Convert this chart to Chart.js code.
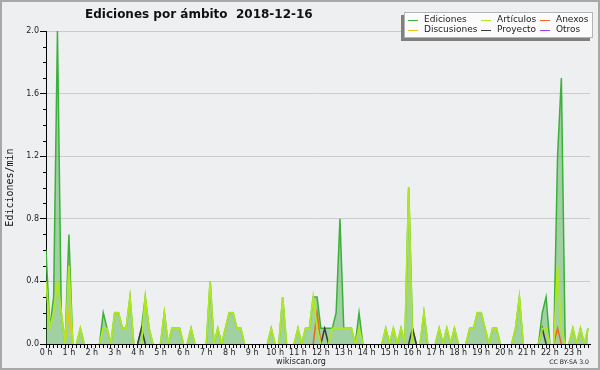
<!DOCTYPE html>
<html><head><meta charset="utf-8">
<script src="https://cdn.jsdelivr.net/npm/chart.js@4/dist/chart.umd.min.js"></script>
<style>html,body{margin:0;padding:0;background:#eeeff1}canvas{display:block}</style>
</head><body>
<div style="width:600px;height:370px;position:relative"><canvas id="c" width="600" height="370"></canvas></div>
<script>
// ---- data (10-minute bins, edits per minute) ----
const titleText = 'Ediciones por ámbito  2018-12-16';
const yTitle = 'Ediciones/min';
const hourLabels = ['0 h','1 h','2 h','3 h','4 h','5 h','6 h','7 h','8 h','9 h','10 h','11 h','12 h','13 h','14 h','15 h','16 h','17 h','18 h','19 h','20 h','21 h','22 h','23 h'];
const seriesNames = ['Ediciones','Artículos','Anexos','Discusiones','Proyecto','Otros'];
const ediciones = [
 0.6,0.1,0.3,2.0,0.2,0,0.7,0,0,0.1,0,0,
 0,0,0,0.2,0.1,0,0.2,0.2,0.1,0.1,0.3,0,
 0,0.1,0.3,0.1,0,0,0,0.2,0,0.1,0.1,0.1,
 0,0,0.1,0,0,0,0,0.4,0,0.1,0,0.1,
 0.2,0.2,0.1,0.1,0,0,0,0,0,0,0,0.1,
 0,0,0.3,0,0,0,0.1,0,0.1,0.1,0.3,0.3,
 0.1,0.1,0.1,0.1,0.2,0.8,0.1,0.1,0.1,0,0.2,0,
 0,0,0,0,0,0.1,0,0.1,0,0.1,0,1.0,
 0.1,0,0,0.2,0,0,0,0.1,0,0.1,0,0.1,
 0,0,0,0.1,0.1,0.2,0.2,0.1,0,0.1,0.1,0,
 0,0,0,0.1,0.3,0,0,0,0,0,0.2,0.3,
 0,0,1.2,1.7,0,0,0.1,0,0.1,0,0.1];
const articulos = [
 0.4,0.1,0.2,0.4,0.2,0,0.5,0,0,0.1,0,0,
 0,0,0,0.1,0.1,0,0.2,0.2,0.1,0.1,0.3,0,
 0,0,0.3,0.1,0,0,0,0.2,0,0.1,0.1,0.1,
 0,0,0.1,0,0,0,0,0.4,0,0.1,0,0.1,
 0.2,0.2,0.1,0.1,0,0,0,0,0,0,0,0.1,
 0,0,0.3,0,0,0,0.1,0,0.1,0.1,0.3,0.1,
 0,0,0,0.1,0.1,0.1,0.1,0.1,0.1,0,0.1,0,
 0,0,0,0,0,0.1,0,0.1,0,0.1,0,1.0,
 0,0,0,0.2,0,0,0,0.1,0,0.1,0,0.1,
 0,0,0,0.1,0.1,0.2,0.2,0.1,0,0.1,0.1,0,
 0,0,0,0.1,0.3,0,0,0,0,0,0.1,0.1,
 0,0,0.5,0.1,0,0,0.1,0,0.1,0,0.1];
const anexos = [
 0,0,0,0,0,0,0,0,0,0,0,0,
 0,0,0,0,0,0,0,0,0,0,0,0,
 0,0,0,0,0,0,0,0,0,0,0,0,
 0,0,0,0,0,0,0,0,0,0,0,0,
 0,0,0,0,0,0,0,0,0,0,0,0,
 0,0,0,0,0,0,0,0,0,0,0,0.2,
 0,0,0,0,0,0,0,0,0,0,0,0,
 0,0,0,0,0,0,0,0,0,0,0,0,
 0,0,0,0,0,0,0,0,0,0,0,0,
 0,0,0,0,0,0,0,0,0,0,0,0,
 0,0,0,0,0,0,0,0,0,0,0,0,
 0,0,0.1,0,0,0,0,0,0,0,0];
const discusiones = [
 0,0,0,0,0,0,0.2,0,0,0,0,0,
 0,0,0,0,0,0,0,0,0,0,0,0,
 0,0,0,0,0,0,0,0,0,0,0,0,
 0,0,0,0,0,0,0,0,0,0,0,0,
 0,0,0,0,0,0,0,0,0,0,0,0,
 0,0,0,0,0,0,0,0,0,0,0,0,
 0,0,0,0,0,0,0,0,0,0,0,0,
 0,0,0,0,0,0,0,0,0,0,0,0,
 0,0,0,0,0,0,0,0,0,0,0,0,
 0,0,0,0,0,0,0,0,0,0,0,0,
 0,0,0,0,0,0,0,0,0,0,0,0,
 0,0,0,0,0,0,0,0,0,0,0];
const proyecto = [
 0,0,0,0,0,0,0,0,0,0,0,0,
 0,0,0,0,0,0,0,0,0,0,0,0,
 0,0.1,0,0,0,0,0,0,0,0,0,0,
 0,0,0,0,0,0,0,0,0,0,0,0,
 0,0,0,0,0,0,0,0,0,0,0,0,
 0,0,0,0,0,0,0,0,0,0,0,0,
 0,0.1,0,0,0,0,0,0,0,0,0,0,
 0,0,0,0,0,0,0,0,0,0,0,0,
 0.1,0,0,0,0,0,0,0,0,0,0,0,
 0,0,0,0,0,0,0,0,0,0,0,0,
 0,0,0,0,0,0,0,0,0,0,0.1,0,
 0,0,0,0,0,0,0,0,0,0,0];
const otros = [
 0,0,0,0,0,0,0,0,0,0,0,0,
 0,0,0,0,0,0,0,0,0,0,0,0,
 0,0,0,0,0,0,0,0,0,0,0,0,
 0,0,0,0,0,0,0,0,0,0,0,0,
 0,0,0,0,0,0,0,0,0,0,0,0,
 0,0,0,0,0,0,0,0,0,0,0,0,
 0,0,0,0,0,0,0,0,0,0,0,0,
 0,0,0,0,0,0,0,0,0,0,0,0,
 0,0,0,0,0,0,0,0,0,0,0,0,
 0,0,0,0,0,0,0,0,0,0,0,0,
 0,0,0,0,0,0,0,0,0,0,0,0,
 0,0,0,0,0,0,0,0,0,0,0];

// ---- chart ----
const BIN = 1/6; // hours per bin
const pts = arr => arr.map((v,i)=>({x:i*BIN, y:v}));
const hidZero = ctx => (ctx.p0.parsed.y===0 && ctx.p1.parsed.y===0) ? 'rgba(0,0,0,0)' : undefined;
const isMajorY = v => Math.abs(v/0.4 - Math.round(v/0.4)) < 1e-6;

function ds(label, arr, color, extra){
  return Object.assign({label, data:pts(arr), borderColor:color, backgroundColor:color,
    borderWidth:1.5, fill:false, pointRadius:0, tension:0, order:0,
    segment:{borderColor:hidZero}}, extra||{});
}
const datasets = [
  ds(seriesNames[0], ediciones, '#3cb03c', {fill:'origin', backgroundColor:'rgba(60,168,60,0.43)', order:1}),
  ds(seriesNames[1], articulos, '#aee822', {borderWidth:1.8}),
  ds(seriesNames[2], anexos, '#f26522'),
  ds(seriesNames[3], discusiones, '#f2c21e'),
  ds(seriesNames[4], proyecto, '#3a3a3a'),
  ds(seriesNames[5], otros, '#9b3fe0')
];

const decor = {
  id:'decor',
  beforeDraw(chart){
    const c = chart.ctx;
    c.save();
    c.fillStyle = '#eeeff1';
    c.fillRect(0,0,chart.width,chart.height);
    c.restore();
  },
  afterDraw(chart){
    const c = chart.ctx;
    const y = chart.scales.y;
    c.save();
    // minor y ticks
    c.strokeStyle = '#000'; c.lineWidth = 1;
    y.ticks.forEach(t=>{
      if(!isMajorY(t.value)){
        const py = Math.round(y.getPixelForValue(t.value))+0.5;
        c.beginPath(); c.moveTo(y.right-3, py); c.lineTo(y.right, py); c.stroke();
      }
    });
    // title
    c.fillStyle = '#111';
    c.font = 'bold 12px "DejaVu Sans"';
    c.textAlign = 'left'; c.textBaseline = 'alphabetic';
    c.fillText(titleText, 85, 18);
    // legend
    const L = {x:404, y:12, w:189, h:26};
    c.fillStyle = '#7f7f7f';
    c.fillRect(L.x-3, L.y+3, L.w, L.h);
    c.fillStyle = '#fbfbfb';
    c.fillRect(L.x, L.y, L.w, L.h);
    c.strokeStyle = '#b4b4b4';
    c.strokeRect(L.x+0.5, L.y+0.5, L.w-1, L.h-1);
    const colX = [408, 481, 540];
    const rowY = [20, 30];
    c.font = '9px "DejaVu Sans"';
    c.textBaseline = 'middle';
    chart.data.datasets.forEach((d,i)=>{
      const cx = colX[i%3], cy = rowY[Math.floor(i/3)];
      c.strokeStyle = d.borderColor; c.lineWidth = 1;
      c.beginPath(); c.moveTo(cx, cy+0.5); c.lineTo(cx+10, cy+0.5); c.stroke();
      c.fillStyle = '#222';
      c.fillText(d.label, cx+16, cy);
    });
    // footer
    c.textBaseline = 'alphabetic';
    c.font = '8px "DejaVu Sans"';
    c.textAlign = 'center';
    c.fillStyle = '#222';
    c.fillText('wikiscan.org', 301, 364);
    c.font = '6.2px "DejaVu Sans"';
    c.textAlign = 'right';
    c.fillText('CC BY-SA 3.0', 589, 364);
    // outer border
    c.strokeStyle = '#a8a8a8'; c.lineWidth = 2;
    c.strokeRect(1,1,chart.width-2,chart.height-2);
    c.restore();
  }
};

new Chart(document.getElementById('c'), {
  type:'line',
  data:{datasets},
  plugins:[decor],
  options:{
    responsive:false, animation:false, devicePixelRatio:1,
    layout:{padding:{top:31,right:10,left:0,bottom:0}},
    plugins:{legend:{display:false}, title:{display:false}, tooltip:{enabled:false}},
    elements:{point:{radius:0}, line:{tension:0}},
    scales:{
      x:{
        type:'linear', min:0, max:23.75,
        afterFit(s){ s.height = 26; },
        afterBuildTicks(s){
          const t=[]; for(let k=0;k*BIN<=23.75+1e-9;k++) t.push({value:k*BIN});
          s.ticks = t;
        },
        ticks:{autoSkip:false, maxRotation:0, minRotation:0, padding:0,
          font:{family:'DejaVu Sans', size:8}, color:'#222',
          callback(v){ const r=Math.round(v); return Math.abs(v-r)<1e-6 && hourLabels[r] ? hourLabels[r] : ''; }},
        grid:{drawOnChartArea:false, drawTicks:true, tickLength:4, tickColor:'#000', tickWidth:1},
        border:{color:'#000', width:1}
      },
      y:{
        min:0, max:2,
        afterFit(s){ s.width = 46; },
        afterBuildTicks(s){
          const t=[]; for(let k=0;k<=20;k++) t.push({value:k/10});
          s.ticks = t;
        },
        ticks:{autoSkip:false, padding:1, font:{family:'DejaVu Sans', size:8}, color:'#222',
          callback(v){ return isMajorY(v) ? v.toFixed(1) : ''; }},
        grid:{color:ctx=> (ctx.tick && isMajorY(ctx.tick.value)) ? '#cbcbcb' : 'rgba(0,0,0,0)',
          drawTicks:true, tickLength:6,
          tickColor:ctx=> (ctx.tick && isMajorY(ctx.tick.value)) ? '#000' : 'rgba(0,0,0,0)'},
        border:{color:'#000', width:1},
        title:{display:true, text:yTitle, color:'#111', padding:{top:4,bottom:0},
          font:{family:'DejaVu Sans Mono', size:10}}
      }
    }
  }
});
</script>
</body></html>
